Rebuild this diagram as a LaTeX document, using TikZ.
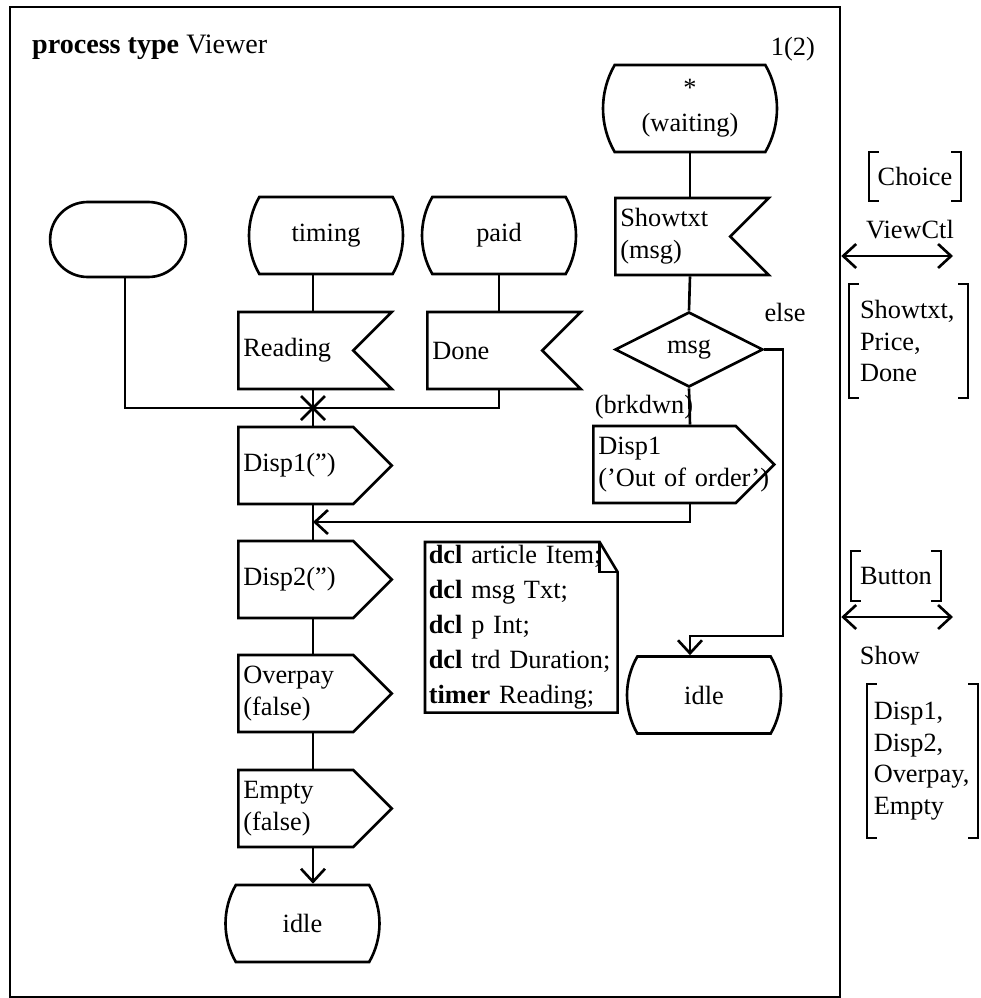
\documentclass[tikz,border=0pt]{standalone}
\usepackage{fontspec}
\setmainfont{Liberation Serif}
\usetikzlibrary{shapes.misc,shapes.geometric,shapes.symbols,arrows.meta}

\begin{document}
\begin{tikzpicture}[x=0.02cm,y=-0.02cm,line width=1.5pt,
  every node/.style={font=\fontsize{15}{18}\selectfont},
  sdlstart/.style={draw,rounded rectangle,minimum width=2.95cm,minimum height=1.5cm},
  sdlstate/.style={draw,rounded rectangle,rounded rectangle arc length=60,minimum width=3.04cm,minimum height=1.54cm,align=center},
  insig/.style={draw,signal,signal to=nowhere,signal from=east,signal pointer angle=90,minimum height=1.54cm,text width=2.1cm,inner xsep=0.1cm,align=left},
  outsig/.style={draw,signal,signal to=east,signal pointer angle=90,minimum height=1.54cm,text width=2.1cm,inner xsep=0.1cm,align=left},
  decision/.style={draw,diamond,minimum width=2.96cm,minimum height=1.5cm,inner sep=0pt},
  siglist/.style={align=left,inner ysep=0pt},
  flow/.style={-{Straight Barb[length=0.26cm,width=0.48cm]}},
  chan/.style={{Straight Barb[length=0.26cm,width=0.48cm]}-{Straight Barb[length=0.26cm,width=0.48cm]}}]
\useasboundingbox (0,0) rectangle (981,998);
\node[draw,minimum width=16.6cm,minimum height=19.8cm,inner sep=0pt] (frame) at (425,502) {};
\node[anchor=base west,font=\fontsize{16}{18}\selectfont] (title) at (25,53) {\textbf{process type} Viewer};
\node[anchor=base east] (page) at (822,55) {1(2)};

\node[sdlstart] (start) at (118,239.5) {};
\node[sdlstate] (timing) at (326,235.5) {timing};
\node[sdlstate] (paid) at (499,235.5) {paid};
\node[sdlstate,minimum height=1.74cm,font=\fontsize{15}{20}\selectfont] (waiting) at (690,108.5) {*\\(waiting)};
\node[insig,anchor=west] (showtxt) at (614,236.5) {Showtxt\\(msg)};
\node[insig,anchor=west] (reading) at (237,350.5) {Reading};
\node[insig,anchor=west] (done) at (426,350.5) {Done};
\node[decision] (msg) at (689,349.5) {msg};
\node[outsig,anchor=west] (disp1) at (237,465.5) {Disp1('')};
\node[outsig,anchor=west,text width=2.65cm] (disp1b) at (592,464.5) {Disp1\\\mbox{('Out of order')}};
\node[outsig,anchor=west] (disp2) at (237,579.5) {Disp2('')};
\node[outsig,anchor=west] (overpay) at (237,693.5) {Overpay\\(false)};
\node[outsig,anchor=west] (empty) at (237,808.5) {Empty\\(false)};
\node[sdlstate] (idle) at (302.5,923.5) {idle};
\node[sdlstate] (idle2) at (704,695) {idle};
\node (else) at (785,312) {else};
\node (brk) at (644,407) {(brkdwn)};

\node[anchor=north west,minimum width=3.8cm,minimum height=3.36cm,text width=3.7cm,inner xsep=0.05cm,inner ysep=0pt,align=left,font=\fontsize{15}{20}\selectfont] (decl) at (425,542)
  {\textbf{dcl} article Item;\\\textbf{dcl} msg Txt;\\\textbf{dcl} p Int;\\\textbf{dcl} trd Duration;\\\textbf{timer} Reading;};
\draw (decl.north west) -- ([shift={(-18,0)}]decl.north east) -- ([shift={(0,30)}]decl.north east) -- (decl.south east) -- (decl.south west) -- cycle;
\draw ([shift={(-18,0)}]decl.north east) |- ([shift={(0,30)}]decl.north east);

\coordinate (lcol) at (313,0);
\coordinate (rcol) at (690,0);
\coordinate (jn) at (313,408);
\coordinate (merge) at (313,522);
\coordinate (elsebend) at (783,636);

\draw (lcol |- timing.south) -- (lcol |- reading.north);
\draw (paid.south) -- (paid.south |- done.north);
\draw ([xshift=0.14cm]start.south) |- (jn);
\draw (paid.south |- done.south) |- (jn);
\draw (lcol |- reading.south) -- (lcol |- disp1.north);
\draw ([shift={(-12,-12)}]jn) -- ([shift={(12,12)}]jn) ([shift={(-12,12)}]jn) -- ([shift={(12,-12)}]jn);
\draw (lcol |- disp1.south) -- (lcol |- disp2.north);
\draw (lcol |- disp2.south) -- (lcol |- overpay.north);
\draw (lcol |- overpay.south) -- (lcol |- empty.north);
\draw[flow] (lcol |- empty.south) -- (lcol |- idle.north);
\draw (waiting.south) -- (rcol |- showtxt.north);
\draw (rcol |- showtxt.south) -- (msg.north);
\draw (msg.south) -- (rcol |- disp1b.north);
\draw[flow] (rcol |- disp1b.south) |- (merge);
\draw[flow] (msg.east) -| (elsebend) -| (rcol |- idle2.north);

\coordinate (vcend) at (953,256);
\coordinate (shend) at (953,617);
\draw[chan] (frame.east |- vcend) -- (vcend);
\draw[chan] (frame.east |- shend) -- (shend);

\node[siglist,minimum width=1.8cm,minimum height=0.94cm] (choice) at (915,176.5) {Choice};
\node (viewctl) at (910,230) {ViewCtl};
\node[siglist,text width=1.94cm,minimum height=2.24cm,inner xsep=0.2cm] (sigin) at (908.5,341) {Showtxt,\\Price,\\Done};
\node[siglist,minimum width=1.76cm,minimum height=0.96cm] (button) at (896,576) {Button};
\node (show) at (890,655) {Show};
\node[siglist,text width=1.95cm,inner xsep=0.115cm,minimum height=3.04cm] (sigout) at (922.5,761) {Disp1,\\Disp2,\\Overpay,\\Empty};
\foreach \n in {choice,sigin,button,sigout}{
  \draw[line width=1.2pt] ([shift={(10,0)}]\n.north west) -| (\n.south west) -- ++(10,0);
  \draw[line width=1.2pt] ([shift={(-10,0)}]\n.north east) -| (\n.south east) -- ++(-10,0);
}
\end{tikzpicture}
\end{document}
